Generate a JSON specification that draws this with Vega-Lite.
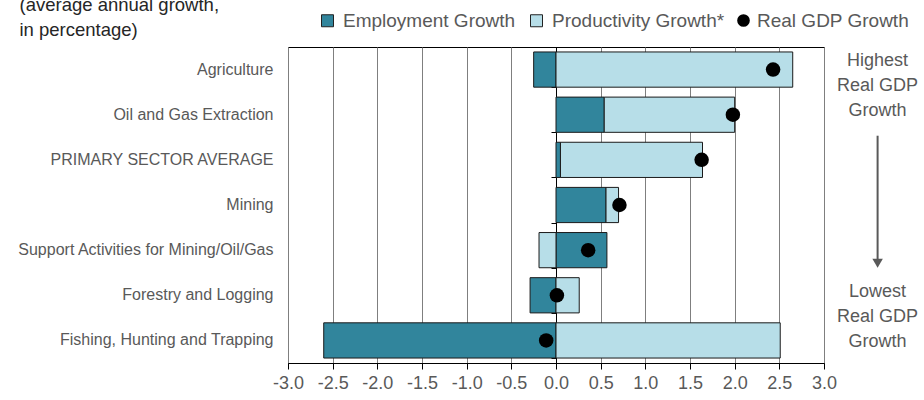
{
  "$schema": "https://vega.github.io/schema/vega-lite/v6.json",
  "width": 536,
  "height": 316,
  "autosize": {"type": "none"},
  "padding": {"left": 288, "top": 47, "right": 100, "bottom": 37},
  "background": "white",
  "config": {
    "view": {"stroke": "#000000", "strokeWidth": 1},
    "axis": {"labelFont": "Liberation Sans", "titleFont": "Liberation Sans"}
  },
  "datasets": {
    "bars": [
      {"sector": "Agriculture", "series": "Employment Growth", "value": -0.25},
      {"sector": "Agriculture", "series": "Productivity Growth*", "value": 2.65},
      {"sector": "Oil and Gas Extraction", "series": "Employment Growth", "value": 0.54},
      {"sector": "Oil and Gas Extraction", "series": "Productivity Growth*", "value": 1.46},
      {"sector": "PRIMARY SECTOR AVERAGE", "series": "Employment Growth", "value": 0.05},
      {"sector": "PRIMARY SECTOR AVERAGE", "series": "Productivity Growth*", "value": 1.59},
      {"sector": "Mining", "series": "Employment Growth", "value": 0.56},
      {"sector": "Mining", "series": "Productivity Growth*", "value": 0.14},
      {"sector": "Support Activities for Mining/Oil/Gas", "series": "Employment Growth", "value": 0.57},
      {"sector": "Support Activities for Mining/Oil/Gas", "series": "Productivity Growth*", "value": -0.19},
      {"sector": "Forestry and Logging", "series": "Employment Growth", "value": -0.29},
      {"sector": "Forestry and Logging", "series": "Productivity Growth*", "value": 0.26},
      {"sector": "Fishing, Hunting and Trapping", "series": "Employment Growth", "value": -2.6},
      {"sector": "Fishing, Hunting and Trapping", "series": "Productivity Growth*", "value": 2.51}
    ],
    "gdp": [
      {"sector": "Agriculture", "series": "Real GDP Growth", "gdp": 2.43},
      {"sector": "Oil and Gas Extraction", "series": "Real GDP Growth", "gdp": 1.98},
      {"sector": "PRIMARY SECTOR AVERAGE", "series": "Real GDP Growth", "gdp": 1.63},
      {"sector": "Mining", "series": "Real GDP Growth", "gdp": 0.71},
      {"sector": "Support Activities for Mining/Oil/Gas", "series": "Real GDP Growth", "gdp": 0.36},
      {"sector": "Forestry and Logging", "series": "Real GDP Growth", "gdp": 0.01},
      {"sector": "Fishing, Hunting and Trapping", "series": "Real GDP Growth", "gdp": -0.11}
    ]
  },
  "layer": [
    {
      "data": {"name": "bars"},
      "mark": {"type": "bar", "stroke": "#1a1a1a", "strokeWidth": 1},
      "encoding": {
        "y": {
          "field": "sector", "type": "nominal",
          "scale": {
            "domain": ["Agriculture", "Oil and Gas Extraction", "PRIMARY SECTOR AVERAGE", "Mining", "Support Activities for Mining/Oil/Gas", "Forestry and Logging", "Fishing, Hunting and Trapping"],
            "paddingInner": 0.22, "paddingOuter": 0.11
          },
          "axis": {
            "title": ["(average annual growth,", "\u00a0in percentage)"],
            "titleAngle": 0, "titleAlign": "left", "titleBaseline": "alphabetic",
            "titleX": -269, "titleY": -37, "titleLineHeight": 25,
            "titleFontSize": 18.5, "titleFontWeight": "normal", "titleColor": "#262626",
            "labelFontSize": 16, "labelColor": "#595959", "labelPadding": 15, "labelLimit": 300,
            "ticks": false, "domain": false, "grid": false
          }
        },
        "x": {
          "field": "value", "type": "quantitative", "stack": "zero",
          "scale": {"domain": [-3, 3], "nice": false},
          "axis": {
            "title": null,
            "values": [-3, -2.5, -2, -1.5, -1, -0.5, 0, 0.5, 1, 1.5, 2, 2.5, 3],
            "labelExpr": "replace(format(datum.value, '.1f'), '\u2212', '-')",
            "labelOverlap": false, "labelFlush": false,
            "labelFontSize": 18, "labelColor": "#595959", "labelPadding": 5,
            "tickColor": "#000000", "tickSize": 6, "domainColor": "#000000",
            "grid": true, "gridColor": {"condition": {"test": "datum.value === 0", "value": "#000000"}, "value": "#7f7f7f"},
            "gridWidth": 1
          }
        },
        "color": {
          "field": "series", "type": "nominal",
          "scale": {"domain": ["Employment Growth", "Productivity Growth*"], "range": ["#31859C", "#B7DEE8"]},
          "legend": {
            "title": null, "orient": "none", "direction": "horizontal",
            "legendX": 30, "legendY": -36,
            "labelFont": "Liberation Sans", "labelFontSize": 19, "labelColor": "#595959",
            "labelLimit": 300, "labelOffset": 6, "columnPadding": 11,
            "symbolType": "square", "symbolSize": 144, "symbolStrokeWidth": 1, "symbolStrokeColor": "#222222"
          }
        },
        "order": {"field": "series", "type": "nominal", "sort": "ascending"}
      }
    },
    {
      "data": {"name": "gdp"},
      "mark": {"type": "point", "shape": "circle", "filled": true, "size": 210, "opacity": 1, "strokeWidth": 0},
      "encoding": {
        "y": {
          "field": "sector", "type": "nominal",
          "axis": {
            "orient": "left", "offset": -268, "labels": false, "ticks": true,
            "tickBand": "extent", "tickSize": 5, "tickColor": "#000000",
            "domain": false, "grid": false, "title": null
          }
        },
        "x": {"field": "gdp", "type": "quantitative"},
        "fill": {
          "field": "series", "type": "nominal",
          "scale": {"domain": ["Real GDP Growth"], "range": ["#000000"]},
          "legend": {
            "title": null, "orient": "none", "direction": "horizontal",
            "legendX": 446, "legendY": -36,
            "labelFont": "Liberation Sans", "labelFontSize": 19, "labelColor": "#595959",
            "labelLimit": 300, "labelOffset": 4,
            "symbolType": "circle", "symbolSize": 160, "symbolStrokeWidth": 0
          }
        }
      }
    },
    {
      "data": {"values": [{"sector": "Agriculture", "note": "Highest\nReal GDP\nGrowth"}]},
      "mark": {"type": "text", "lineBreak": "\n", "lineHeight": 25, "align": "center", "baseline": "middle", "dy": -9, "font": "Liberation Sans", "fontSize": 18, "color": "#595959"},
      "encoding": {
        "y": {"field": "sector", "type": "nominal", "axis": null},
        "x": {"datum": 3.6},
        "text": {"field": "note"}
      }
    },
    {
      "data": {"values": [{"sector": "Fishing, Hunting and Trapping", "note": "Lowest\nReal GDP\nGrowth"}]},
      "mark": {"type": "text", "lineBreak": "\n", "lineHeight": 25, "align": "center", "baseline": "middle", "dy": -48, "font": "Liberation Sans", "fontSize": 18, "color": "#595959"},
      "encoding": {
        "y": {"field": "sector", "type": "nominal", "axis": null},
        "x": {"datum": 3.6},
        "text": {"field": "note"}
      }
    },
    {
      "data": {"values": [{"from": "Oil and Gas Extraction", "to": "Forestry and Logging"}]},
      "mark": {"type": "rule", "color": "#595959", "strokeWidth": 2, "yOffset": 21, "y2Offset": -33},
      "encoding": {
        "y": {"field": "from", "type": "nominal", "axis": null},
        "y2": {"field": "to"},
        "x": {"datum": 3.6}
      }
    },
    {
      "data": {"values": [{"to": "Forestry and Logging"}]},
      "mark": {"type": "point", "shape": "triangle-down", "filled": true, "size": 110, "color": "#595959", "opacity": 1, "yOffset": -32},
      "encoding": {
        "y": {"field": "to", "type": "nominal", "axis": null},
        "x": {"datum": 3.6}
      }
    }
  ],
  "resolve": {"axis": {"y": "independent"}}
}
